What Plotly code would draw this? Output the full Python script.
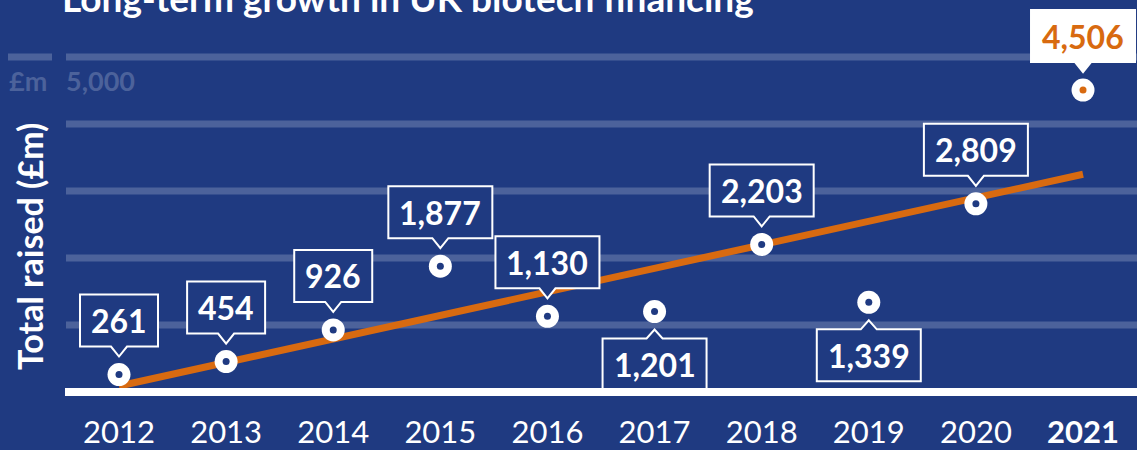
import plotly.graph_objects as go

# ---- data ----
years = [2012, 2013, 2014, 2015, 2016, 2017, 2018, 2019, 2020, 2021]
raised = [261, 454, 926, 1877, 1130, 1201, 2203, 1339, 2809, 4506]
labels = ["261", "454", "926", "1,877", "1,130", "1,201", "2,203", "1,339", "2,809", "4,506"]
label_side = ["above", "above", "above", "above", "above", "below", "above", "below", "above", "above"]
tick_text = ["2012", "2013", "2014", "2015", "2016", "2017", "2018", "2019", "2020", "<b>2021</b>"]
trend_years = [2012, 2021]
trend_values = [90, 3250]
grid_values = [1000, 2000, 3000, 4000, 5000]
title_text = "Long-term growth in UK biotech financing"
ytitle_text = "Total raised (£m)"

# ---- style ----
NAVY = "#1f3a81"
GRID = "#4c629b"
ORANGE = "#d86a10"
WHITE = "#ffffff"
FONT = "Lato"
W, H = 1137, 450

fig = go.Figure()

# trend line
fig.add_trace(go.Scatter(x=trend_years, y=trend_values, mode="lines",
                         line=dict(color=ORANGE, width=7), hoverinfo="skip"))
# white ring markers
fig.add_trace(go.Scatter(x=years, y=raised, mode="markers",
                         marker=dict(color=WHITE, size=23, line=dict(width=0)),
                         hoverinfo="skip"))
center_colors = [ORANGE if y == years[-1] else NAVY for y in years]
fig.add_trace(go.Scatter(x=years, y=raised, mode="markers",
                         marker=dict(color=center_colors, size=7, line=dict(width=0)),
                         hoverinfo="skip"))

shapes = []
# gridlines
for g in grid_values:
    shapes.append(dict(type="line", xref="paper", yref="y", x0=66 / W, x1=1, y0=g, y1=g,
                       line=dict(color=GRID, width=7), layer="below"))
# short segment above the unit label
shapes.append(dict(type="line", xref="paper", yref="y", x0=8 / W, x1=52 / W,
                   y0=grid_values[-1], y1=grid_values[-1],
                   line=dict(color=GRID, width=7), layer="below"))

annotations = []
for yr, v, lab, side in zip(years, raised, labels, label_side):
    w = 78 if len(lab) <= 3 else 104
    hw = w / 2
    highlight = yr == years[-1]
    fill = WHITE if highlight else NAVY
    if side == "above":
        path = (f"M {-hw},28 L -8,28 L 0,18 L 8,28 L {hw},28 L {hw},80 L {-hw},80 Z")
        shift = 54
    else:
        path = (f"M {-hw},-27 L -8,-27 L 0,-18 L 8,-27 L {hw},-27 L {hw},-79 L {-hw},-79 Z")
        shift = -53
    shapes.append(dict(type="path", xref="x", yref="y", xsizemode="pixel", ysizemode="pixel",
                       xanchor=yr, yanchor=v, path=path, fillcolor=fill,
                       line=dict(color=WHITE, width=2), layer="above"))
    annotations.append(dict(x=yr, y=v, xref="x", yref="y", text=f"<b>{lab}</b>",
                            showarrow=False, yshift=shift, xanchor="center",
                            font=dict(family=FONT, size=32, color=ORANGE if highlight else WHITE)))

# baseline
shapes.append(dict(type="line", xref="paper", yref="y", x0=65 / W, x1=1, y0=0, y1=0,
                   line=dict(color=WHITE, width=8), layer="above"))

# title, axis title, unit labels
annotations.append(dict(x=60 / W, y=1, xref="paper", yref="paper", xanchor="left", yanchor="bottom",
                        yshift=-22, text=f"<b>{title_text}</b>", showarrow=False,
                        font=dict(family=FONT, size=37, color=WHITE)))
annotations.append(dict(x=29 / W, y=1 - 247 / 400, xref="paper", yref="paper", textangle=-90,
                        xanchor="center", yanchor="middle",
                        text=f"<b>{ytitle_text}</b>", showarrow=False,
                        font=dict(family=FONT, size=34, color=WHITE)))
annotations.append(dict(x=28 / W, y=grid_values[-1], xref="paper", yref="y", yshift=-23,
                        xanchor="center", text="<b>£m</b>", showarrow=False,
                        font=dict(family=FONT, size=27, color=GRID)))
annotations.append(dict(x=64 / W, y=grid_values[-1], xref="paper", yref="y", yshift=-23, xanchor="left",
                        text=f"<b>{grid_values[-1]:,}</b>", showarrow=False,
                        font=dict(family=FONT, size=27, color=GRID)))

fig.update_layout(
    width=W, height=H,
    paper_bgcolor=NAVY, plot_bgcolor=NAVY,
    margin=dict(l=0, r=0, t=0, b=50, autoexpand=False),
    showlegend=False,
    shapes=shapes, annotations=annotations,
    xaxis=dict(range=[2010.889, 2021.504], tickmode="array", tickvals=years, ticktext=tick_text,
               showgrid=False, zeroline=False, showline=False, automargin=False,
               ticks="outside", ticklen=5, tickcolor="rgba(0,0,0,0)",
               tickfont=dict(family=FONT, size=31, color=WHITE), fixedrange=True),
    yaxis=dict(range=[-119.4, 5850.7], showgrid=False, zeroline=False, showline=False,
               automargin=False, showticklabels=False, ticks="", fixedrange=True),
)

fig.write_html("out.html", config={"displayModeBar": False},
               post_script="document.body.style.margin='0px';document.body.style.background='#1f3a81';")
